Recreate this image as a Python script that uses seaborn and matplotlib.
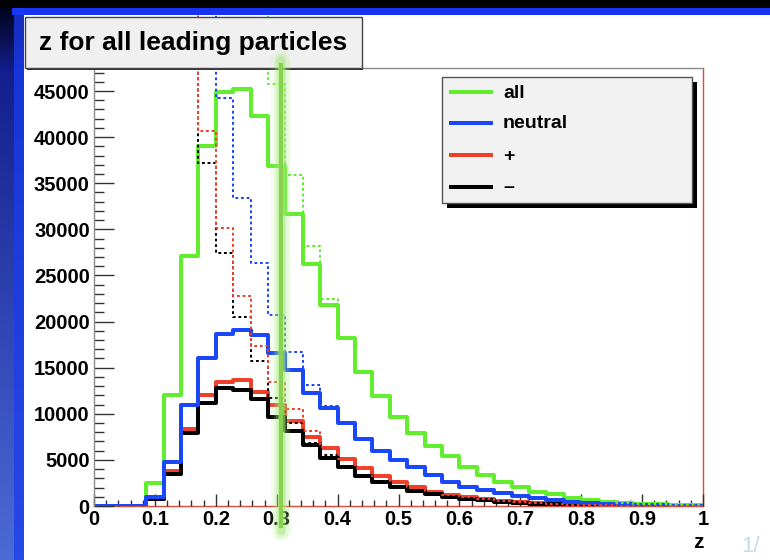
import numpy as np
import matplotlib
matplotlib.use("Agg")
import matplotlib.pyplot as plt
import seaborn as sns
from matplotlib.patches import Rectangle
from matplotlib.lines import Line2D
from matplotlib.ticker import MultipleLocator, FixedLocator, FixedFormatter

# ---------------- data (35 bins of z between 0 and 1) ----------------
z_min, z_max, n_bins = 0.0, 1.0, 35

all_solid = [0, 0, 0, 2500, 12000, 27100, 39000, 44900, 45200, 42300, 36900, 31700,
             26200, 21800, 18200, 14550, 11900, 9700, 7950, 6500, 5400, 4270, 3360,
             2640, 2030, 1560, 1250, 900, 650, 480, 350, 250, 170, 110, 60]
neutral_solid = [0, 0, 0, 1000, 4800, 11000, 16000, 18700, 19100, 18500, 16600, 14700,
                 12300, 10600, 8970, 7250, 6000, 5000, 4250, 3380, 2650, 2100, 1740,
                 1380, 1080, 830, 640, 480, 350, 250, 170, 110, 70, 40, 20]
plus_solid = [0, 0, 0, 800, 3800, 8300, 12000, 13400, 13700, 12400, 10900, 9200,
              7500, 6250, 5050, 4100, 3250, 2550, 2030, 1560, 1200, 940, 720,
              540, 400, 290, 210, 150, 100, 70, 45, 30, 20, 10, 5]
minus_solid = [0, 0, 0, 800, 3500, 7900, 11200, 12800, 12600, 11600, 9600, 8100,
               6600, 5250, 4250, 3250, 2650, 2100, 1660, 1300, 1010, 800, 650,
               470, 340, 250, 180, 120, 80, 55, 35, 20, 12, 8, 4]

# dotted histograms (first bins run far off the top of the frame)
all_dotted = [90000, 90000, 90000, 90000, 90000, 90000, 90000, 90000, 90000, 90000,
              45800, 35900, 28200, 22500, 18350, 14650, 11950, 9750, 8000, 6580,
              5450, 4300, 3400, 2670, 2060, 1590, 1280, 930, 680, 500, 370, 260,
              180, 115, 65]
neutral_dotted = [90000, 90000, 90000, 90000, 90000, 90000, 90000, 44300, 33400,
                  26300, 20700, 16700, 13100, 10850, 9100, 7330, 6080, 5060, 4320,
                  3420, 2700, 2140, 1780, 1400, 1100, 850, 660, 500, 360, 260,
                  175, 115, 72, 42, 22]
plus_dotted = [90000, 90000, 90000, 90000, 90000, 90000, 40700, 30100, 22800, 17400,
               13500, 10500, 8170, 6440, 5150, 4150, 3300, 2580, 2060, 1590, 1220,
               960, 740, 560, 410, 300, 220, 160, 110, 75, 50, 32, 22, 12, 6]
minus_dotted = [90000, 90000, 90000, 90000, 90000, 90000, 37200, 27450, 20500, 15700,
                11750, 9050, 6870, 5530, 4350, 3320, 2700, 2150, 1700, 1330, 1040,
                820, 670, 490, 350, 255, 185, 125, 85, 58, 37, 22, 13, 8, 4]

legend_labels = ["all", "neutral", "+", "\u2013"]
x_tick_values = [0, 0.1, 0.2, 0.3, 0.4, 0.5, 0.6, 0.7, 0.8, 0.9, 1.0]
x_tick_labels = ["0", "0.1", "0.2", "0.3", "0.4", "0.5", "0.6", "0.7", "0.8", "0.9", "1"]
y_tick_values = [0, 5000, 10000, 15000, 20000, 25000, 30000, 35000, 40000, 45000]
y_tick_labels = ["0", "5000", "10000", "15000", "20000", "25000", "30000", "35000",
                 "40000", "45000"]
title_text = "z for all leading particles"
x_label = "z"
page_text = "1/"
marker_z = 0.307

# ---------------- styling ----------------
GREEN = "#62ee2e"
BLUE = "#1a48f8"
RED = "#f0402c"
BLACK = "#000000"

sns.set_theme(style="white")
plt.rcParams["font.family"] = ["Liberation Sans", "DejaVu Sans"]
plt.rcParams["font.weight"] = "bold"

W, H = 770, 560
fig = plt.figure(figsize=(W / 100, H / 100), dpi=100)
fig.patch.set_facecolor("black")


def fx(px):
    return px / W


def fy(py):
    return 1 - py / H


PX = 0.72  # points per pixel

# ---------------- slide background ----------------
bg = fig.add_axes([0, 0, 1, 1], zorder=-10)
grad = np.zeros((H, 1, 3))
for i in range(H):
    if i < 70:
        c = np.array([0.0, 0.0, 0.05]) * (1 - i / 70) + np.array([0.07, 0.12, 0.55]) * (i / 70)
    else:
        s = (i - 70) / (H - 70)
        c = np.array([0.07, 0.12, 0.55]) * (1 - s) + np.array([0.30, 0.42, 0.84]) * s
    grad[i, 0] = c
grad[:8, 0] = 0
bg.imshow(grad, extent=(0, 24, H, 0), aspect="auto", interpolation="bilinear")
bg.set_xlim(0, W)
bg.set_ylim(H, 0)
bg.axis("off")
bg.add_patch(Rectangle((12, 8), W - 12, 7, facecolor="#1634f2", edgecolor="none"))
bg.add_patch(Rectangle((14, 8), 10, H - 8, facecolor="#1a3cf0", edgecolor="none",
                       alpha=0.75))
bg.add_patch(Rectangle((24, 15), W - 24, H - 15, facecolor="white", edgecolor="none"))
bg.text(741, 546, page_text, color="#c9d8f2", fontsize=16, fontweight="normal",
        va="center", ha="left")

# ---------------- main axes ----------------
ax_l, ax_r, ax_t, ax_b = 94, 703, 68, 506
ax = fig.add_axes([fx(ax_l), fy(ax_b), fx(ax_r) - fx(ax_l), (ax_b - ax_t) / H])
ax.set_facecolor("white")

edges = np.linspace(z_min, z_max, n_bins + 1)
centers = 0.5 * (edges[:-1] + edges[1:])
bin_list = edges.tolist()

clip_rect = Rectangle((fx(ax_l), fy(ax_b)), fx(ax_r) - fx(ax_l), (ax_b - 15) / H,
                      transform=fig.transFigure)

solid_lw = 4.0 * PX
dot_lw = 2.0 * PX

for vals, col in [(all_solid, GREEN), (plus_solid, RED), (minus_solid, BLACK),
                  (neutral_solid, BLUE)]:
    sns.histplot(x=centers, weights=np.asarray(vals, float), bins=bin_list,
                 element="step", fill=False, color=col, linewidth=solid_lw, ax=ax)

for vals, col in [(all_dotted, GREEN), (neutral_dotted, BLUE), (minus_dotted, BLACK),
                  (plus_dotted, RED)]:
    sns.histplot(x=centers, weights=np.asarray(vals, float), bins=bin_list,
                 element="step", fill=False, color=col, linewidth=dot_lw,
                 linestyle=(0, (1.4, 1.4)), ax=ax)
    ln = ax.lines[-1]
    ln.set_clip_path(clip_rect)

ax.set_xlim(z_min, z_max)
ax.set_ylim(0, 47500)
ax.set_xlabel("")
ax.set_ylabel("")

for side in ["left", "top"]:
    ax.spines[side].set_color("#8a8a8a")
    ax.spines[side].set_linewidth(1.0)
for side in ["right", "bottom"]:
    ax.spines[side].set_color("#e04a3a")
    ax.spines[side].set_linewidth(1.0)
    ax.spines[side].set_zorder(0.5)

ax.xaxis.set_major_locator(FixedLocator(x_tick_values))
ax.xaxis.set_major_formatter(FixedFormatter(x_tick_labels))
ax.xaxis.set_minor_locator(MultipleLocator(0.02))
ax.yaxis.set_major_locator(FixedLocator(y_tick_values))
ax.yaxis.set_major_formatter(FixedFormatter(y_tick_labels))
ax.yaxis.set_minor_locator(MultipleLocator(1000))

ax.tick_params(axis="x", which="major", direction="in", length=12 * PX, width=1,
               color="#333333", pad=3, labelsize=14.5)
ax.tick_params(axis="x", which="minor", direction="in", length=6 * PX, width=1,
               color="#333333")
ax.tick_params(axis="y", which="major", direction="in", length=20 * PX, width=1,
               color="#333333", pad=3, labelsize=14.5)
ax.tick_params(axis="y", which="minor", direction="in", length=10 * PX, width=1,
               color="#333333")
ax.tick_params(bottom=True, left=True, top=False, right=False)
ax.tick_params(which="minor", bottom=True, left=True, top=False, right=False)
for lab in ax.get_xticklabels() + ax.get_yticklabels():
    lab.set_fontweight("bold")
    lab.set_color("black")

fig.text(fx(698), fy(542), x_label, fontsize=15, fontweight="bold", ha="center",
         va="center", color="black")

# ---------------- title box ----------------
fig.add_artist(Rectangle((fx(27), fy(70)), fx(363) - fx(27), (70 - 19) / H,
                         transform=fig.transFigure, facecolor="#333333",
                         edgecolor="none", zorder=4))
fig.add_artist(Rectangle((fx(25), fy(68)), fx(362) - fx(25), (68 - 17) / H,
                         transform=fig.transFigure, facecolor="#f0f0f0",
                         edgecolor="#444444", linewidth=1.0, zorder=5))
fig.text(fx(193), fy(43), title_text, fontsize=19, fontweight="bold", ha="center",
         va="center", color="black", zorder=6)

# ---------------- legend ----------------
lx0, lx1, ly0, ly1 = 442, 692, 77, 203
fig.add_artist(Rectangle((fx(lx0 + 5), fy(ly1 + 5)), fx(lx1) - fx(lx0), (ly1 - ly0) / H,
                         transform=fig.transFigure, facecolor="black",
                         edgecolor="none", zorder=4))
fig.add_artist(Rectangle((fx(lx0), fy(ly1)), fx(lx1) - fx(lx0), (ly1 - ly0) / H,
                         transform=fig.transFigure, facecolor="#f2f2f2",
                         edgecolor="#555555", linewidth=1.0, zorder=5))
leg_y = [92, 123, 155, 187]
for lab, col, yy in zip(legend_labels, [GREEN, BLUE, RED, BLACK], leg_y):
    fig.add_artist(Line2D([fx(449), fx(493)], [fy(yy), fy(yy)], transform=fig.transFigure,
                          color=col, linewidth=4 * PX, solid_capstyle="butt", zorder=6))
    fig.text(fx(503), fy(yy + 1), lab, fontsize=14, fontweight="bold", ha="left",
             va="center", color="black", zorder=6)

# ---------------- highlighted marker line (glow) ----------------
mx = fx(ax_l + marker_z * (ax_r - ax_l))
for lw, a in [(20, 0.10), (15, 0.18), (10, 0.28), (7, 0.4)]:
    fig.add_artist(Line2D([mx, mx], [fy(60), fy(531)], transform=fig.transFigure,
                          color="#a6e879", linewidth=lw * PX, alpha=a,
                          solid_capstyle="round", zorder=7))
fig.add_artist(Line2D([mx, mx], [fy(63), fy(528)], transform=fig.transFigure,
                      color="#84d24c", linewidth=4 * PX, alpha=0.95,
                      solid_capstyle="butt", zorder=7))

fig.savefig("out.png", dpi=100, facecolor=fig.get_facecolor())
